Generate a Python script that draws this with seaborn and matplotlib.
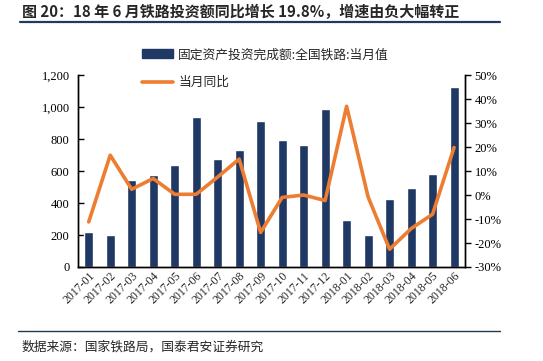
import matplotlib
matplotlib.use("Agg")
import matplotlib.pyplot as plt
import seaborn as sns
import pandas as pd
from matplotlib.lines import Line2D
from matplotlib.ticker import FuncFormatter, MultipleLocator

months = ["2017-01", "2017-02", "2017-03", "2017-04", "2017-05", "2017-06",
          "2017-07", "2017-08", "2017-09", "2017-10", "2017-11", "2017-12",
          "2018-01", "2018-02", "2018-03", "2018-04", "2018-05", "2018-06"]
invest = [217, 200, 547, 578, 635, 941, 678, 731, 916, 797, 760, 985,
          294, 200, 426, 495, 580, 1127]
yoy = [-11.2, 16.6, 2.4, 6.9, 0.3, 0.3, 7.5, 15.0, -15.6, -1.0, 0.0, -2.3,
       37.0, -0.8, -22.6, -14.0, -8.0, 19.8]

bar_label = "固定资产投资完成额:全国铁路:当月值"
line_label = "当月同比"
title = "图 20：18 年 6 月铁路投资额同比增长 19.8%，增速由负大幅转正"
source = "数据来源：国家铁路局，国泰君安证券研究"

sns.set_theme(style="white")
plt.rcParams['font.family'] = ['Liberation Serif', 'Noto Sans CJK SC']

NAVY = "#203864"
ORANGE = "#ED7D31"
CJK = ['Noto Sans CJK SC', 'DejaVu Sans']

df = pd.DataFrame({"month": months, "invest": invest, "yoy": yoy})

fig = plt.figure(figsize=(5.43, 3.61), dpi=100)
ax = fig.add_axes([0.1436, 0.2604, 0.7124, 0.5316])
sns.barplot(data=df, x="month", y="invest", color=NAVY, width=0.42,
            saturation=1, ax=ax)
ax.set_ylim(0, 1200)
ax.set_xlim(-0.5, len(months) - 0.5)
ax.yaxis.set_major_locator(MultipleLocator(200))
ax.yaxis.set_major_formatter(FuncFormatter(lambda v, p: f"{int(v):,}"))
ax.set_xlabel("")
ax.set_ylabel("")

ax2 = ax.twinx()
sns.lineplot(x=list(range(len(months))), y=yoy, color=ORANGE, linewidth=2.6,
             ax=ax2, sort=False)
ax2.set_ylim(-30, 50)
ax2.yaxis.set_major_locator(MultipleLocator(10))
ax2.yaxis.set_major_formatter(FuncFormatter(lambda v, p: f"{int(v)}%"))
ax2.set_xlim(-0.5, len(months) - 0.5)

for a in (ax, ax2):
    a.spines['top'].set_visible(False)
    for s in ('left', 'right', 'bottom'):
        a.spines[s].set_color('black')
        a.spines[s].set_linewidth(1.0)

ax.tick_params(axis='y', direction='in', length=4, width=1, labelsize=9,
               colors='black', left=True, pad=6)
ax.tick_params(axis='x', length=0, labelsize=8.5, pad=2)
ax2.tick_params(axis='y', direction='out', length=4, width=1, labelsize=9,
                colors='black', right=True, pad=3)
plt.setp(ax.get_xticklabels(), rotation=45, ha='right', rotation_mode='anchor')

handles = [plt.Rectangle((0, 0), 1, 1, color=NAVY),
           Line2D([0], [0], color=ORANGE, linewidth=2.6)]
fig.legend(handles, [bar_label, line_label], loc='upper left',
           bbox_to_anchor=(0.253, 0.88), frameon=False,
           prop={'family': CJK, 'size': 9.2}, handlelength=2.4,
           labelspacing=1.15, handletextpad=0.4, borderaxespad=0)

fig.text(0.04, 0.968, title, family=CJK, fontsize=10.8, fontweight='bold',
         va='center', ha='left')
fig.add_artist(Line2D([0.037, 0.92], [0.94, 0.94], color=NAVY, linewidth=1.6,
                      transform=fig.transFigure))
fig.add_artist(Line2D([0.033, 0.92], [0.083, 0.083], color="#1f3a4d",
                      linewidth=1.0, transform=fig.transFigure))
fig.text(0.04, 0.039, source, family=CJK, fontsize=9.2, va='center', ha='left')

fig.savefig("out.png", dpi=100)
